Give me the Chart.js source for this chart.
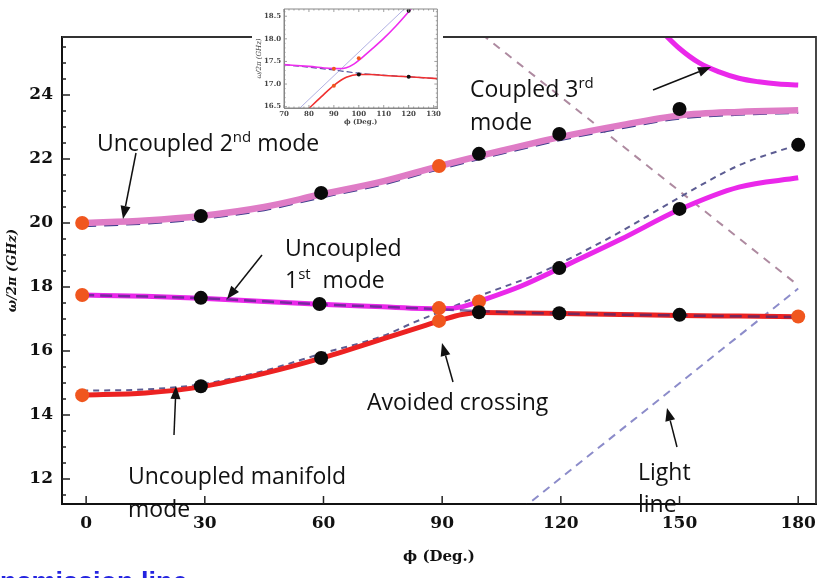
<!DOCTYPE html>
<html>
<head>
<meta charset="utf-8">
<script src="https://cdn.jsdelivr.net/npm/chart.js@4.4.1/dist/chart.umd.min.js"></script>
<style>
  html, body { margin: 0; padding: 0; background: #fff; }
  #wrap { position: relative; width: 827px; height: 578px; overflow: hidden; }
  #main { position: absolute; left: 0; top: 0; }
  #inset { position: absolute; left: 252px; top: 0; background: #fff; }
</style>
</head>
<body>
<div id="wrap">
  <canvas id="main" width="827" height="578" style="width:827px;height:578px"></canvas>
  <canvas id="inset" width="191" height="126" style="width:191px;height:126px"></canvas>
</div>
<script>
// ---- main plot data: phase (deg) vs frequency (GHz) ----
const mode2X = [-1, 15, 29, 45, 59, 75, 89, 105, 120, 135, 150, 165, 180];
const mode2Y = [20.0, 20.08, 20.22, 20.5, 20.88, 21.3, 21.77, 22.26, 22.69, 23.05, 23.36, 23.47, 23.52];
const mode2UncY = [19.9, 19.98, 20.12, 20.4, 20.78, 21.2, 21.67, 22.16, 22.59, 22.95, 23.26, 23.38, 23.44];

const coupledX = [-1, 15, 29, 45, 59, 75, 85, 90, 95, 100, 110, 120, 135, 150, 165, 180];
const upperY = [17.75, 17.71, 17.65, 17.55, 17.46, 17.38, 17.33, 17.32, 17.38, 17.58, 18.03, 18.6, 19.48, 20.42, 21.12, 21.41];
const lowerY = [14.62, 14.69, 14.88, 15.3, 15.76, 16.38, 16.77, 16.97, 17.14, 17.2, 17.19, 17.17, 17.14, 17.11, 17.09, 17.07];

const mode1UncX = [-1, 29, 59, 89, 100, 120, 150, 180];
const mode1UncY = [17.75, 17.65, 17.46, 17.31, 17.24, 17.17, 17.11, 17.06];

const manifoldX = [-1, 15, 29, 45, 59, 75, 83, 90, 100, 114, 120, 135, 150, 165, 180];
const manifoldY = [14.76, 14.8, 14.96, 15.38, 15.9, 16.47, 16.9, 17.25, 17.75, 18.4, 18.75, 19.72, 20.8, 21.8, 22.45];

const mode3X = [145, 150, 155, 160, 165, 170, 175, 180];
const mode3Y = [26.05, 25.45, 25.0, 24.72, 24.52, 24.41, 24.34, 24.31];

const lightX = [110, 180];
const lightY = [11.05, 17.95];
const foldX = [100, 180];
const foldY = [25.9, 18.05];

const blackX = [29, 59.4, 99.3, 119.6, 150, 180, 29, 59, 119.6, 150, 29, 59.4, 99.3, 119.6, 150];
const blackY = [20.22, 20.94, 22.16, 22.78, 23.56, 22.44, 17.66, 17.47, 18.59, 20.44, 14.9, 15.78, 17.21, 17.18, 17.13];
const orangeX = [-1, 89.2, -1, 89.2, 89.2, 99.3, -1, 180];
const orangeY = [20.0, 21.78, 17.75, 17.34, 16.94, 17.55, 14.62, 17.08];

// ---- inset data (zoom on the avoided crossing) ----
const inUpX = [70, 80, 88, 92, 95, 98, 101, 105, 110, 115, 120, 122];
const inUpY = [17.43, 17.39, 17.35, 17.34, 17.36, 17.44, 17.57, 17.76, 18.01, 18.29, 18.6, 18.73];
const inLowX = [80, 85, 90, 95, 100, 105, 110, 120, 131.5];
const inLowY = [16.46, 16.72, 16.97, 17.15, 17.21, 17.21, 17.19, 17.16, 17.12];
const inUncX = [70, 90, 100, 120, 131.5];
const inUncY = [17.43, 17.31, 17.24, 17.16, 17.12];
const inLightX = [76, 119];
const inLightY = [16.45, 18.7];
const inBlackX = [100, 120, 120];
const inBlackY = [17.21, 17.16, 18.62];
const inOrangeX = [90, 100, 90];
const inOrangeY = [17.34, 17.57, 16.96];

const pts = (xs, ys) => xs.map((x, i) => ({x: x, y: ys[i]}));

function curve(xs, ys, color, width, dash) {
    return {
        data: pts(xs, ys),
        showLine: true,
        borderColor: color,
        borderWidth: width,
        borderDash: dash || [],
        pointRadius: 0,
        cubicInterpolationMode: 'monotone',
        borderCapStyle: 'butt'
    };
}
function dots(xs, ys, color, r) {
    return { data: pts(xs, ys), showLine: false, pointRadius: r, pointBackgroundColor: color, pointBorderWidth: 0, borderColor: color };
}

const isMajor = (v, step) => Math.abs(v / step - Math.round(v / step)) < 1e-6;

// inward tick marks plus the top/right frame edges
const frameTicks = {
    id: 'frameTicks',
    afterDraw(chart, args, o) {
        const {ctx, chartArea: a} = chart;
        const x = chart.scales.x, y = chart.scales.y;
        ctx.save();
        ctx.strokeStyle = o.edgeColor;
        ctx.lineWidth = o.edgeWidth;
        ctx.beginPath();
        ctx.moveTo(a.left, a.top);
        ctx.lineTo(a.right, a.top);
        ctx.lineTo(a.right, a.bottom);
        if (o.mirror) { ctx.lineTo(a.left, a.bottom); ctx.lineTo(a.left, a.top); }
        ctx.stroke();
        ctx.strokeStyle = o.tickColor;
        ctx.lineWidth = o.tickWidth;
        ctx.beginPath();
        y.ticks.forEach(t => {
            const py = y.getPixelForValue(t.value);
            const len = isMajor(t.value, o.yStep) ? o.major : o.minor;
            ctx.moveTo(a.left, py); ctx.lineTo(a.left + len, py);
            if (o.mirror) { ctx.moveTo(a.right, py); ctx.lineTo(a.right - len, py); }
        });
        x.ticks.forEach(t => {
            const px = x.getPixelForValue(t.value);
            const len = isMajor(t.value, o.xStep) ? o.major : o.minor;
            ctx.moveTo(px, a.bottom); ctx.lineTo(px, a.bottom - len);
            if (o.mirror) { ctx.moveTo(px, a.top); ctx.lineTo(px, a.top + len); }
        });
        ctx.stroke();
        ctx.restore();
    }
};

// text annotations and arrows (pixel positions on the page)
const noteFont = '23px "Open Sans"';
const supFont = '15px "Open Sans"';
const notes = [
    {x: 97, y: 151, parts: [['Uncoupled 2'], ['nd', 1], [' mode']]},
    {x: 285, y: 256, parts: [['Uncoupled']]},
    {x: 285, y: 288, parts: [['1'], ['st', 1], ['  mode']]},
    {x: 470, y: 97, parts: [['Coupled 3'], ['rd', 1]]},
    {x: 470, y: 130, parts: [['mode']]},
    {x: 367, y: 410, parts: [['Avoided crossing']]},
    {x: 128, y: 484, parts: [['Uncoupled manifold']]},
    {x: 128, y: 517, parts: [['mode']]},
    {x: 638, y: 480, parts: [['Light']]},
    {x: 638, y: 512, parts: [['line']]}
];
const arrows = [
    [136, 153, 123, 219],
    [262, 255, 227, 299],
    [653, 90, 711, 67],
    [174, 435, 176, 386],
    [453, 382, 442, 343],
    [677, 447, 667, 408]
];

const annotate = {
    id: 'annotate',
    afterDraw(chart) {
        const ctx = chart.ctx;
        ctx.save();
        ctx.fillStyle = '#111';
        ctx.strokeStyle = '#111';
        ctx.textAlign = 'left';
        ctx.textBaseline = 'alphabetic';
        notes.forEach(n => {
            let cx = n.x;
            n.parts.forEach(p => {
                ctx.font = p[1] ? supFont : noteFont;
                ctx.fillText(p[0], cx, p[1] ? n.y - 9 : n.y);
                cx += ctx.measureText(p[0]).width;
            });
        });
        arrows.forEach(([x1, y1, x2, y2]) => {
            const ang = Math.atan2(y2 - y1, x2 - x1);
            const hl = 13, hw = 5;
            const bx = x2 - hl * Math.cos(ang), by = y2 - hl * Math.sin(ang);
            ctx.lineWidth = 1.5;
            ctx.beginPath(); ctx.moveTo(x1, y1); ctx.lineTo(bx, by); ctx.stroke();
            ctx.beginPath();
            ctx.moveTo(x2, y2);
            ctx.lineTo(bx + hw * Math.sin(ang), by - hw * Math.cos(ang));
            ctx.lineTo(bx - hw * Math.sin(ang), by + hw * Math.cos(ang));
            ctx.closePath(); ctx.fill();
        });
        // cut-off caption from the page below the figure
        ctx.fillStyle = '#2424e0';
        ctx.font = 'bold 27px "Liberation Sans"';
        ctx.fillText('nsmission line', 0, 591);
        ctx.restore();
    }
};

const tickFont = {family: 'DejaVu Serif', size: 17, weight: 'bold'};

new Chart(document.getElementById('main'), {
    type: 'scatter',
    data: {
        datasets: [
            dots(blackX, blackY, '#0a0a0a', 7),
            dots(orangeX, orangeY, '#f0561e', 7),
            curve(mode1UncX, mode1UncY, 'rgba(60,40,120,0.65)', 2.5, [12, 6]),
            curve(mode2X, mode2Y, '#df7cc6', 6.5),
            curve(coupledX, upperY, '#ea28ea', 5),
            curve(coupledX, lowerY, '#ec2222', 5),
            curve(mode3X, mode3Y, '#ea28ea', 5),
            curve(mode2X, mode2UncY, '#3c3c8c', 2, [14, 8]),
            curve(manifoldX, manifoldY, '#5c5c92', 2, [6, 5]),
            curve(lightX, lightY, '#8c8cca', 2, [8, 6]),
            curve(foldX, foldY, '#ae8aa0', 2, [8, 7])
        ]
    },
    options: {
        responsive: false,
        animation: false,
        layout: { padding: {left: 0, top: 37, right: 11, bottom: 0} },
        plugins: {
            legend: { display: false },
            tooltip: { enabled: false },
            frameTicks: { edgeColor: '#333', edgeWidth: 1.8, tickColor: '#222', tickWidth: 1.5, major: 8, minor: 4, xStep: 30, yStep: 2, mirror: false }
        },
        scales: {
            x: {
                type: 'linear',
                min: -6.1,
                max: 184.5,
                afterFit: s => { s.height = 74; },
                grid: { drawOnChartArea: false, drawTicks: false },
                border: { display: true, color: '#111', width: 2 },
                ticks: { stepSize: 30, includeBounds: false, autoSkip: false, padding: 9, color: '#111', font: tickFont, maxRotation: 0 },
                title: { display: true, text: 'ϕ (Deg.)', color: '#111', font: {family: 'DejaVu Serif', size: 15, weight: 'bold'}, padding: {top: 0, bottom: 12} }
            },
            y: {
                min: 11.22,
                max: 25.81,
                afterFit: s => { s.width = 62; },
                grid: { drawOnChartArea: false, drawTicks: false },
                border: { display: true, color: '#111', width: 2 },
                ticks: {
                    stepSize: 0.5, includeBounds: false, autoSkip: false, padding: 9, color: '#111', font: tickFont,
                    callback: v => isMajor(v, 2) ? String(v) : ''
                },
                title: { display: true, text: 'ω/2π (GHz)', color: '#111', font: {family: 'DejaVu Serif', size: 13, weight: 'bold', style: 'italic'}, padding: {top: 5, bottom: 0} }
            }
        }
    },
    plugins: [frameTicks, annotate]
});

const insetTick = {family: 'DejaVu Serif', size: 7, weight: 'bold'};

new Chart(document.getElementById('inset'), {
    type: 'scatter',
    data: {
        datasets: [
            dots(inBlackX, inBlackY, '#111', 2),
            dots(inOrangeX, inOrangeY, '#f0561e', 2),
            curve(inUpX, inUpY, '#ee2cee', 1.6),
            curve(inLowX, inLowY, '#f03030', 1.6),
            curve(inUncX, inUncY, '#50509a', 1.2, [6, 3]),
            curve(inLightX, inLightY, '#a8a8e0', 0.9)
        ]
    },
    options: {
        responsive: false,
        animation: false,
        layout: { padding: {left: 0, top: 9, right: 3, bottom: 0} },
        plugins: {
            legend: { display: false },
            tooltip: { enabled: false },
            frameTicks: { edgeColor: '#888', edgeWidth: 1, tickColor: '#888', tickWidth: 0.8, major: 3, minor: 1.5, xStep: 10, yStep: 0.5, mirror: true }
        },
        scales: {
            x: {
                type: 'linear',
                min: 70,
                max: 131.5,
                afterFit: s => { s.height = 18; },
                grid: { drawOnChartArea: false, drawTicks: false },
                border: { display: true, color: '#888', width: 1 },
                ticks: {
                    stepSize: 2, includeBounds: false, autoSkip: false, padding: 2, color: '#444', font: insetTick, maxRotation: 0,
                    callback: v => isMajor(v, 10) ? String(v) : ''
                },
                title: { display: true, text: 'ϕ (Deg.)', color: '#444', font: {family: 'DejaVu Serif', size: 7, weight: 'bold'}, padding: {top: 0, bottom: 0} }
            },
            y: {
                min: 16.47,
                max: 18.66,
                afterFit: s => { s.width = 32; },
                grid: { drawOnChartArea: false, drawTicks: false },
                border: { display: true, color: '#888', width: 1 },
                ticks: {
                    stepSize: 0.1, includeBounds: false, autoSkip: false, padding: 3, color: '#444', font: insetTick,
                    callback: v => isMajor(v, 0.5) ? v.toFixed(1) : ''
                },
                title: { display: true, text: 'ω/2π (GHz)', color: '#444', font: {family: 'DejaVu Serif', size: 7, style: 'italic'}, padding: {top: 3, bottom: 0} }
            }
        }
    },
    plugins: [frameTicks]
});
</script>
</body>
</html>
